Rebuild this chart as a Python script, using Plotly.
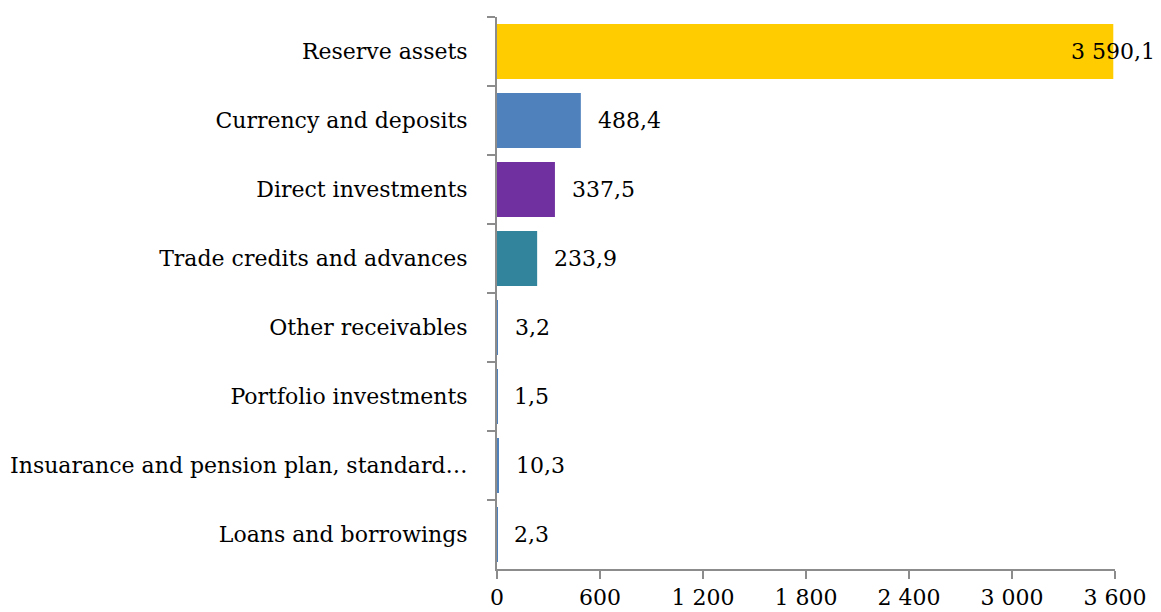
import plotly.graph_objects as go

# categories listed top to bottom as in the picture
categories = ["Reserve assets", "Currency and deposits", "Direct investments",
              "Trade credits and advances", "Other receivables", "Portfolio investments",
              "Insuarance and pension plan, standard\u2026", "Loans and borrowings"]
values = [3590.1, 488.4, 337.5, 233.9, 3.2, 1.5, 10.3, 2.3]
bar_colors = ["#FFCC00", "#4F81BD", "#7030A0", "#31849B",
              "#4F81BD", "#4F81BD", "#4F81BD", "#4F81BD"]

x_ticks = [0, 600, 1200, 1800, 2400, 3000, 3600]
x_ticktext = ["0", "600", "1 200", "1 800", "2 400", "3 000", "3 600"]

FONT = "DejaVu Serif"
AXIS_GREY = "#8c8c8c"


def fmt(v):
    # 3590.1 -> "3 590,1"
    return f"{v:,.1f}".replace(",", " ").replace(".", ",")


fig = go.Figure(go.Bar(
    x=values,
    y=categories,
    orientation="h",
    marker_color=bar_colors,
    marker_line_width=0,
    hoverinfo="skip",
))

# value labels just past the bar end; the largest one is pulled back over the bar
for cat, v in zip(categories, values):
    if v == max(values):
        fig.add_annotation(x=v, y=cat, text=fmt(v), showarrow=False,
                           xanchor="right", xshift=44)
    else:
        fig.add_annotation(x=v, y=cat, text=fmt(v), showarrow=False,
                           xanchor="left", xshift=15)

# the page body has an 8px margin, so the figure is 8px smaller than the window
fig.update_layout(
    width=1153, height=604,
    margin=dict(l=489, r=46, t=9, b=43),
    paper_bgcolor="white", plot_bgcolor="white",
    font=dict(family=FONT, size=22, color="black"),
    bargap=0.2,
    showlegend=False,
)
fig.update_xaxes(
    range=[0, 3600], tickvals=x_ticks, ticktext=x_ticktext,
    showgrid=False, zeroline=False, automargin=False,
    showline=True, linecolor=AXIS_GREY, linewidth=2,
    ticks="outside", ticklen=8, tickwidth=2, tickcolor=AXIS_GREY,
    ticklabelstandoff=0,
)
fig.update_yaxes(
    type="category", categoryorder="array", categoryarray=categories,
    autorange="reversed", tickson="boundaries",
    showgrid=False, zeroline=False, automargin=False,
    showline=True, linecolor=AXIS_GREY, linewidth=2,
    ticks="outside", ticklen=8, tickwidth=2, tickcolor=AXIS_GREY,
    ticklabelstandoff=23,
)

fig.write_html("out.html")
